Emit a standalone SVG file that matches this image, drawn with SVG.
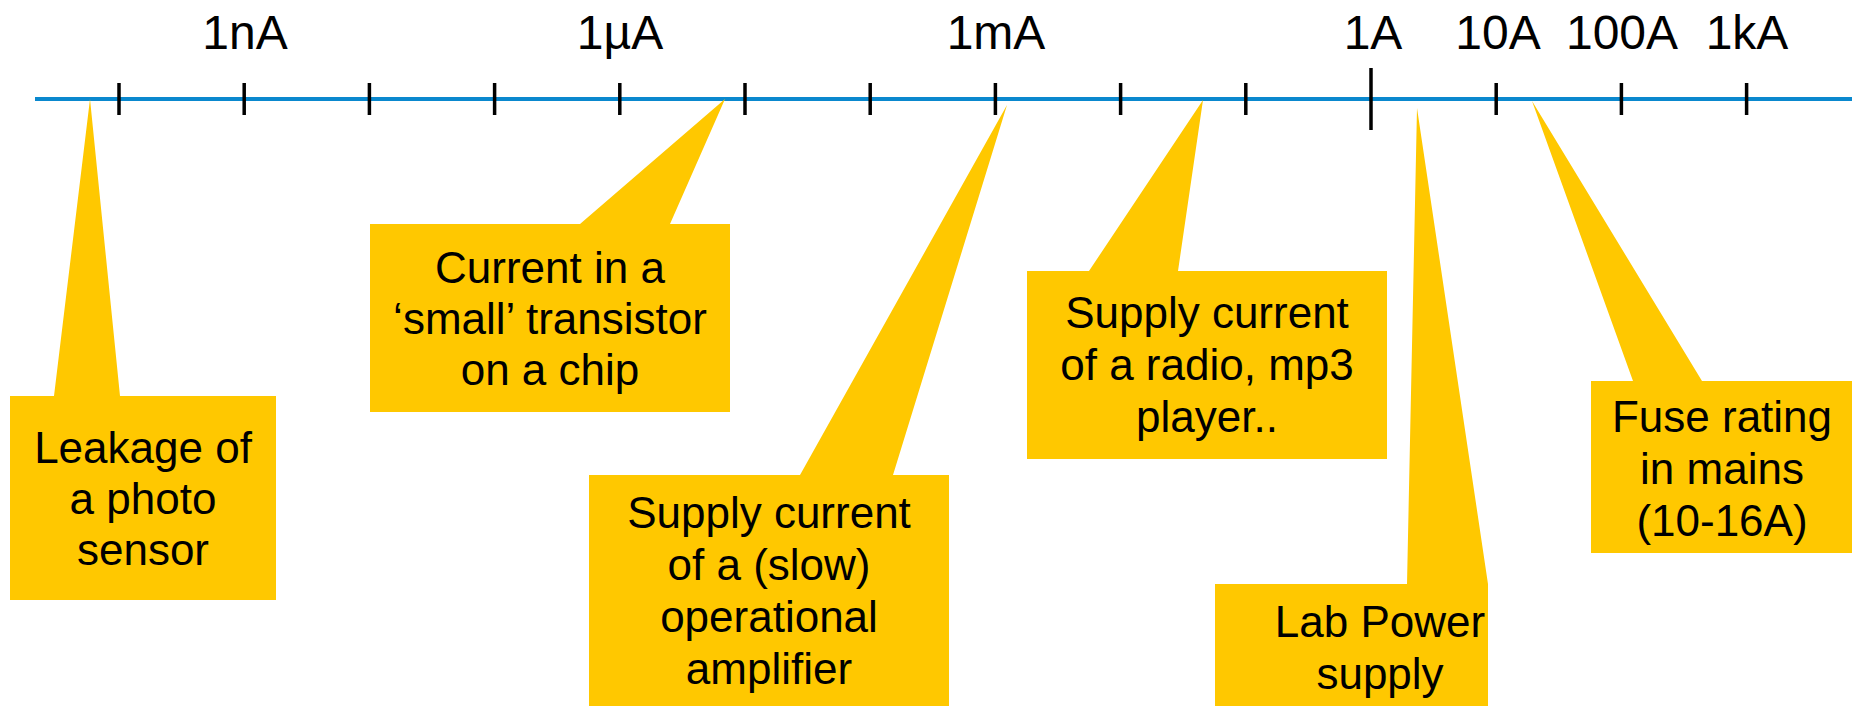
<svg xmlns="http://www.w3.org/2000/svg" width="1852" height="706" viewBox="0 0 1852 706">
  <style>
    .axis { stroke: #0A88CE; stroke-width: 4; fill: none; }
    .tick { stroke: #000; stroke-width: 3.5; }
    .scale { font-family: "Liberation Sans", Arial, sans-serif; font-size: 48px; fill: #000; text-anchor: middle; }
    .callout { fill: #FFC800; stroke: none; }
    .note { font-family: "Liberation Sans", Arial, sans-serif; font-size: 44px; fill: #000; text-anchor: middle; }
  </style>
  <rect width="1852" height="706" fill="#fff"/>

  <!-- logarithmic current axis -->
  <g id="axis">
    <line class="axis" x1="35" y1="99" x2="1852" y2="99"/>
    <g id="ticks">
      <line class="tick" x1="119" y1="83" x2="119" y2="115"/>
      <line class="tick" x1="244.2" y1="83" x2="244.2" y2="115"/>
      <line class="tick" x1="369.4" y1="83" x2="369.4" y2="115"/>
      <line class="tick" x1="494.6" y1="83" x2="494.6" y2="115"/>
      <line class="tick" x1="619.8" y1="83" x2="619.8" y2="115"/>
      <line class="tick" x1="745" y1="83" x2="745" y2="115"/>
      <line class="tick" x1="870.2" y1="83" x2="870.2" y2="115"/>
      <line class="tick" x1="995.4" y1="83" x2="995.4" y2="115"/>
      <line class="tick" x1="1120.6" y1="83" x2="1120.6" y2="115"/>
      <line class="tick" x1="1245.8" y1="83" x2="1245.8" y2="115"/>
      <line class="tick" x1="1371" y1="68" x2="1371" y2="130"/>
      <line class="tick" x1="1496.2" y1="83" x2="1496.2" y2="115"/>
      <line class="tick" x1="1621.4" y1="83" x2="1621.4" y2="115"/>
      <line class="tick" x1="1746.6" y1="83" x2="1746.6" y2="115"/>
    </g>
    <g id="scale-labels">
      <text class="scale" x="245" y="49">1nA</text>
      <text class="scale" x="620" y="49">1µA</text>
      <text class="scale" x="996" y="49">1mA</text>
      <text class="scale" x="1373" y="49">1A</text>
      <text class="scale" x="1498" y="49">10A</text>
      <text class="scale" x="1622" y="49">100A</text>
      <text class="scale" x="1747" y="49">1kA</text>
    </g>
  </g>

  <!-- callout pointers act as the connectors onto the axis -->
  <g id="connectors"/>

  <g id="photo-sensor">
    <path class="callout" d="M10 396 H54 L90 99 L120 396 H276 V600 H10 Z"/>
    <text class="note" x="143" y="463">Leakage of</text>
    <text class="note" x="143" y="514">a photo</text>
    <text class="note" x="143" y="565">sensor</text>
  </g>

  <g id="small-transistor">
    <path class="callout" d="M370 224 H580 L725 99 L670 224 H730 V412 H370 Z"/>
    <text class="note" x="550" y="283">Current in a</text>
    <text class="note" x="550" y="334">‘small’ transistor</text>
    <text class="note" x="550" y="385">on a chip</text>
  </g>

  <g id="op-amp">
    <path class="callout" d="M589 475 H800 L1007 105 L893 475 H949 V710 H589 Z"/>
    <text class="note" x="769" y="528">Supply current</text>
    <text class="note" x="769" y="580">of a (slow)</text>
    <text class="note" x="769" y="632">operational</text>
    <text class="note" x="769" y="684">amplifier</text>
  </g>

  <g id="radio-player">
    <path class="callout" d="M1027 271 H1089 L1203 100 L1178 271 H1387 V459 H1027 Z"/>
    <text class="note" x="1207" y="328">Supply current</text>
    <text class="note" x="1207" y="380">of a radio, mp3</text>
    <text class="note" x="1207" y="432">player..</text>
  </g>

  <g id="lab-power">
    <path class="callout" d="M1215 584 H1407 L1417 108 L1488 584 V710 H1215 Z"/>
    <text class="note" x="1380" y="637">Lab Power</text>
    <text class="note" x="1380" y="689">supply</text>
  </g>

  <g id="mains-fuse">
    <path class="callout" d="M1591 381 H1633 L1532 101 L1702 381 H1856 V553 H1591 Z"/>
    <text class="note" x="1722" y="432">Fuse rating</text>
    <text class="note" x="1722" y="484">in mains</text>
    <text class="note" x="1722" y="536">(10-16A)</text>
  </g>
</svg>
